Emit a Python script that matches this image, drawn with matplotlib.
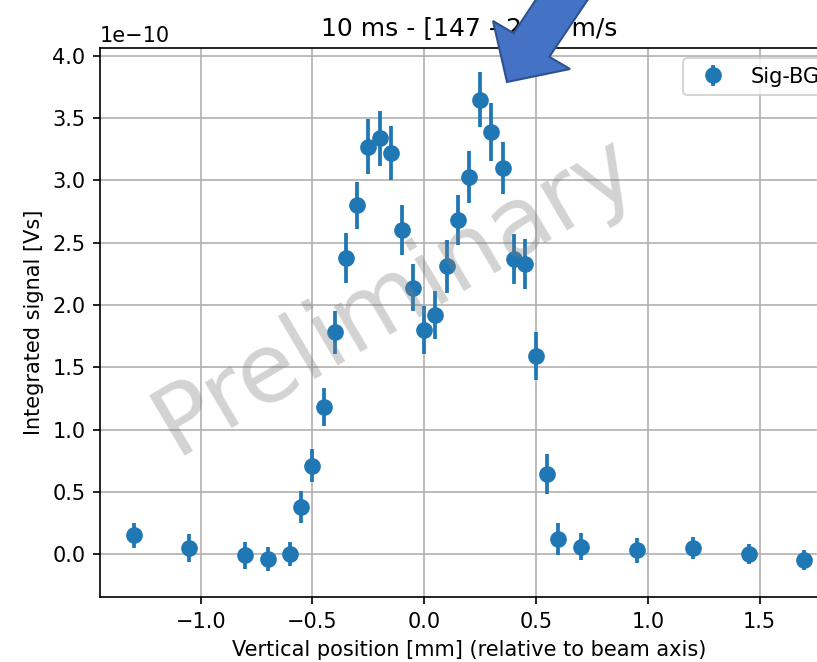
import numpy as np
import matplotlib
matplotlib.use("Agg")
import matplotlib.pyplot as plt
from matplotlib.patches import Polygon

# positions [mm] relative to beam axis
pos_mm = [-1.30, -1.05, -0.80, -0.70, -0.60, -0.55, -0.50, -0.45, -0.40, -0.35,
          -0.30, -0.25, -0.20, -0.15, -0.10, -0.05, 0.00, 0.05, 0.10, 0.15,
          0.20, 0.25, 0.30, 0.35, 0.40, 0.45, 0.50, 0.55, 0.60, 0.70,
          0.95, 1.20, 1.45, 1.70]
# signal - background, in units of 1e-10 Vs
sig_bg = [0.15, 0.05, -0.01, -0.04, 0.00, 0.38, 0.71, 1.18, 1.78, 2.38,
          2.80, 3.27, 3.34, 3.22, 2.60, 2.14, 1.80, 1.92, 2.31, 2.68,
          3.03, 3.65, 3.39, 3.10, 2.37, 2.33, 1.59, 0.64, 0.12, 0.06,
          0.03, 0.05, 0.00, -0.05]
sig_err = [0.10, 0.11, 0.11, 0.10, 0.10, 0.13, 0.13, 0.15, 0.17, 0.20,
           0.19, 0.22, 0.22, 0.22, 0.20, 0.19, 0.19, 0.19, 0.21, 0.20,
           0.21, 0.22, 0.23, 0.21, 0.20, 0.20, 0.19, 0.16, 0.13, 0.11,
           0.10, 0.09, 0.08, 0.08]

W, H = 817, 662
DPI = 150

fig = plt.figure(figsize=(W / DPI, H / DPI), dpi=DPI)
# axes run past the right edge (the reference is a cropped screenshot)
ax = fig.add_axes([100 / W, 1 - 597 / H, 738 / W, 549 / H])

y = np.array(sig_bg) * 1e-10
yerr = np.array(sig_err) * 1e-10
ax.errorbar(pos_mm, y, yerr=yerr, fmt='o', ms=7, lw=1.8, color='C0', label='Sig-BG')

ax.set_xlim(-1.45, 1.85)
ax.set_ylim(-0.345e-10, 4.064e-10)
ax.grid(True)
ax.set_xlabel('Vertical position [mm] (relative to beam axis)')
ax.set_ylabel('Integrated signal [Vs]')
ax.set_title('10 ms - [147 - 200] m/s')
ax.legend(loc='upper right')

# watermark
fig.text(395 / W, 1 - 295 / H, 'Preliminary', fontsize=46, color='gray', alpha=0.35,
         rotation=30.5, ha='center', va='center', rotation_mode='anchor')

# blue arrow pasted on top
arrow_px = [(507, 82), (493, 21), (513.6, 33.2), (549, -20), (601, -20),
            (549.3, 56.8), (570, 69)]
arrow = Polygon([(px / W, 1 - py / H) for px, py in arrow_px], closed=True,
                transform=fig.transFigure, facecolor='#4472C4', edgecolor='#2F528F',
                lw=1.0, zorder=10)
fig.patches.append(arrow)

fig.savefig('out.png', dpi=DPI)
